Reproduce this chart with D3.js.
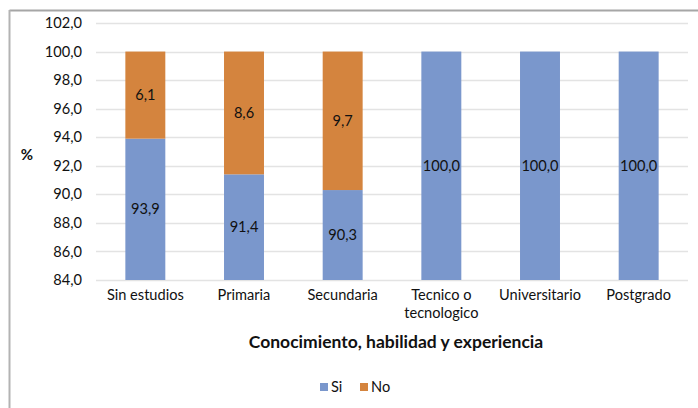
<!DOCTYPE html>
<html><head><meta charset="utf-8">
<script src="https://cdn.jsdelivr.net/npm/d3@7"></script>
<style>body{margin:0;background:#fff}svg{display:block}text{font-family:Lato,"Open Sans",sans-serif;fill:#111}</style>
</head><body><svg id="c" width="698" height="408"></svg>
<script>
const categories = ["Sin estudios","Primaria","Secundaria","Tecnico o tecnologico","Universitario","Postgrado"];
const siValues = [93.9, 91.4, 90.3, 100.0, 100.0, 100.0];
const noValues = [6.1, 8.6, 9.7, 0, 0, 0];
const yTicks = [84,86,88,90,92,94,96,98,100,102];
const seriesNames = ["Si","No"];
const colors = {Si:"#7a97cc", No:"#d4843e"};

const svg = d3.select("#c");
// frame
svg.append("line").attr("x1",9.5).attr("x2",698).attr("y1",10.5).attr("y2",10.5).attr("stroke","#a6a6a6").attr("stroke-width",2);
svg.append("line").attr("x1",9.5).attr("x2",9.5).attr("y1",10).attr("y2",408).attr("stroke","#b3b3b3").attr("stroke-width",2);

const L=96, R=688, T=23, B=280;
const x = d3.scaleBand().domain(categories).range([L,R]).paddingInner(0.595).paddingOuter(0.2975);
const y = d3.scaleLinear().domain([84,102]).range([B,T]);
const fmt = v => d3.format(".1f")(v).replace(".",",");
const fs = "14.6px";

// grid
svg.append("g").selectAll("line").data(yTicks).join("line")
  .attr("x1",L).attr("x2",R).attr("y1",d=>Math.round(y(d))+0.5).attr("y2",d=>Math.round(y(d))+0.5)
  .attr("stroke","#e3e3e3").attr("stroke-width",1.5);

// y labels
svg.append("g").selectAll("text").data(yTicks).join("text")
  .attr("x",82).attr("y",d=>y(d)).attr("dy","0.35em").attr("text-anchor","end")
  .style("font-size",fs).text(fmt);

const data = categories.map((c,i)=>({cat:c, Si:siValues[i], No:noValues[i]}));
const stacked = d3.stack().keys(seriesNames)(data);
const g = svg.append("g");
stacked.forEach(s=>{
  g.append("g").selectAll("rect").data(s.filter(d=>d[1]>d[0])).join("rect")
    .attr("x",d=>x(d.data.cat)).attr("width",x.bandwidth())
    .attr("y",d=>y(d[1])).attr("height",d=>y(Math.max(d[0],84))-y(d[1]))
    .attr("fill",colors[s.key]);
});
stacked.forEach(s=>{
  g.append("g").selectAll("text").data(s.filter(d=>d[1]>d[0])).join("text")
    .attr("x",d=>x(d.data.cat)+x.bandwidth()/2)
    .attr("y",d=>y((Math.max(d[0],84)+d[1])/2)).attr("dy","0.35em")
    .attr("text-anchor","middle").style("font-size",fs)
    .text(d=>fmt(d[1]-d[0]));
});

// x labels
const xl = svg.append("g").selectAll("text").data(categories).join("text")
  .attr("x",d=>x(d)+x.bandwidth()/2).attr("y",300).attr("text-anchor","middle").style("font-size",fs);
xl.each(function(d){
  const t=d3.select(this);
  const lines = d==="Tecnico o tecnologico" ? ["Tecnico o","tecnologico"] : [d];
  lines.forEach((ln,i)=>t.append("tspan").attr("x",x(d)+x.bandwidth()/2).attr("dy",i?18:0).text(ln));
});

// axis titles
svg.append("text").attr("x",396).attr("y",348).attr("text-anchor","middle")
  .style("font-size","17.5px").style("font-weight","bold").text("Conocimiento, habilidad y experiencia");
svg.append("text").attr("x",27).attr("y",160).attr("text-anchor","middle")
  .style("font-size","15px").style("font-weight","bold").text("%");

// legend
const lg = svg.append("g");
const lx = [320, 360];
seriesNames.forEach((n,i)=>{
  lg.append("rect").attr("x",lx[i]).attr("y",383).attr("width",8).attr("height",8).attr("fill",colors[n]);
  lg.append("text").attr("x",lx[i]+11).attr("y",387).attr("dy","0.35em").style("font-size",fs).text(n);
});
</script></body></html>
